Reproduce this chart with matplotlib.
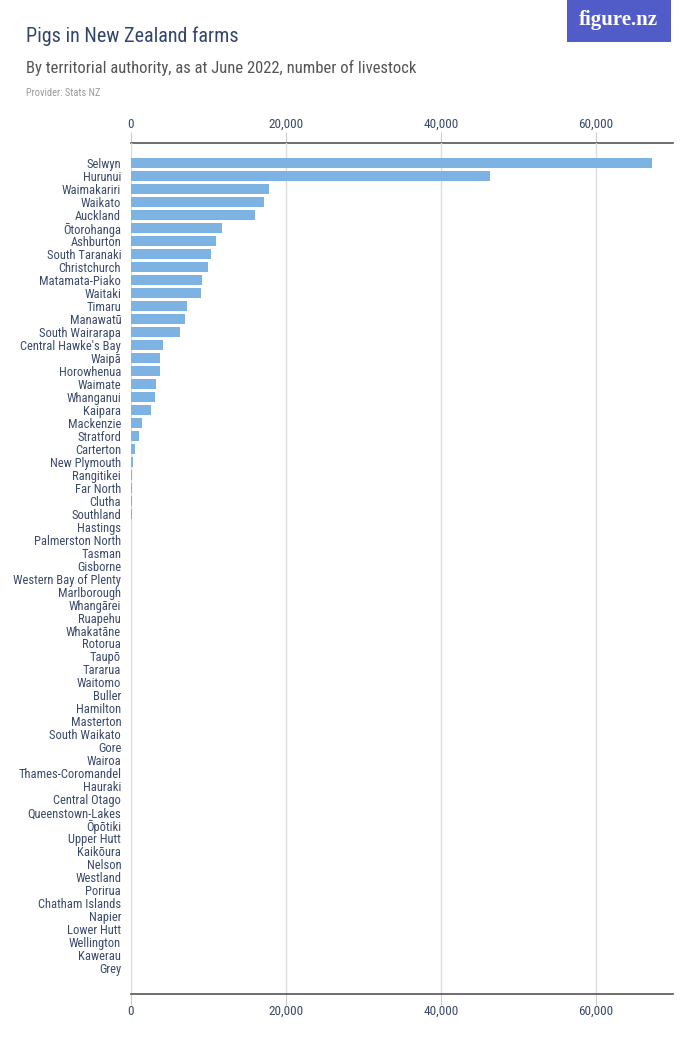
import matplotlib
matplotlib.use("Agg")
import matplotlib.pyplot as plt
from matplotlib.patches import Rectangle
from matplotlib.ticker import FuncFormatter

plt.rcParams['font.family'] = ['Roboto Condensed', 'Liberation Sans', 'DejaVu Sans']

# Данные: поголовье свиней по территориям (июнь 2022)
regions = [
    "Selwyn", "Hurunui", "Waimakariri", "Waikato", "Auckland", "Ōtorohanga",
    "Ashburton", "South Taranaki", "Christchurch", "Matamata-Piako", "Waitaki",
    "Timaru", "Manawatū", "South Wairarapa", "Central Hawke's Bay", "Waipā",
    "Horowhenua", "Waimate", "Whanganui", "Kaipara", "Mackenzie", "Stratford",
    "Carterton", "New Plymouth", "Rangitikei", "Far North", "Clutha",
    "Southland", "Hastings", "Palmerston North", "Tasman", "Gisborne",
    "Western Bay of Plenty", "Marlborough", "Whangārei", "Ruapehu",
    "Whakatāne", "Rotorua", "Taupō", "Tararua", "Waitomo", "Buller",
    "Hamilton", "Masterton", "South Waikato", "Gore", "Wairoa",
    "Thames-Coromandel", "Hauraki", "Central Otago", "Queenstown-Lakes",
    "Ōpōtiki", "Upper Hutt", "Kaikōura", "Nelson", "Westland", "Porirua",
    "Chatham Islands", "Napier", "Lower Hutt", "Wellington", "Kawerau", "Grey",
]
pigs = [
    67200, 46300, 17800, 17200, 16000, 11700,
    11000, 10300, 9900, 9200, 9000,
    7200, 7000, 6300, 4100, 3800,
    3700, 3200, 3100, 2600, 1400, 1000,
    520, 230, 180, 120, 90,
    80, 70, 60, 55, 50,
    45, 40, 35, 30,
    28, 25, 22, 20, 18, 16,
    14, 12, 11, 10, 9,
    8, 7, 6, 5,
    5, 4, 4, 3, 3, 2,
    2, 1, 1, 1, 0, 0,
]
xticks = [0, 20000, 40000, 60000]

text_col = '#3b4a6b'
fmt = FuncFormatter(lambda v, p: f"{int(v):,}")

fig = plt.figure(figsize=(7, 10.5), dpi=100)
ax = fig.add_axes([0.187, 0.0533, 0.774, 0.8105])

y = list(range(len(regions)))
ax.barh(y, pigs, height=0.75, color='#7db3e3', zorder=3)

ax.set_xlim(0, 69900)
ax.set_ylim(len(regions) + 1.0, -1.55)
ax.set_yticks(y)
ax.set_yticklabels(regions, fontsize=9, color=text_col)
ax.tick_params(axis='y', length=0, pad=7)

# Нижняя ось
ax.set_xticks(xticks)
ax.xaxis.set_major_formatter(fmt)
ax.tick_params(axis='x', top=False, labeltop=False, length=8, color='#cccccc',
               labelsize=9.5, labelcolor=text_col, pad=0)
ax.grid(axis='x', color='#dddddd', linewidth=1, zorder=0)

# Верхняя ось
top = ax.secondary_xaxis('top')
top.set_xticks(xticks)
top.xaxis.set_major_formatter(fmt)
top.tick_params(length=8, color='#cccccc', labelsize=9.5, labelcolor=text_col, pad=1)
top.spines['top'].set_color('#555555')
top.spines['top'].set_linewidth(1.2)

for side in ['left', 'right', 'top']:
    ax.spines[side].set_visible(False)
ax.spines['bottom'].set_color('#555555')
ax.spines['bottom'].set_linewidth(1.2)

# Заголовки
fig.text(0.037, 0.965, "Pigs in New Zealand farms", fontsize=14.5, color='#34456b',
         va='center', ha='left')
fig.text(0.037, 0.935, "By territorial authority, as at June 2022, number of livestock",
         fontsize=12, color='#555555', va='center', ha='left')
fig.text(0.037, 0.911, "Provider: Stats NZ", fontsize=7.5, color='#999999',
         va='center', ha='left')

# Логотип
fig.patches.append(Rectangle((0.81, 0.96), 0.149, 0.04, transform=fig.transFigure,
                             facecolor='#525cc8', edgecolor='none'))
fig.text(0.884, 0.981, "figure.nz", fontsize=15, color='white', ha='center',
         va='center', family=['Liberation Serif', 'DejaVu Serif'], weight='bold')

plt.savefig("out.png", dpi=100)
